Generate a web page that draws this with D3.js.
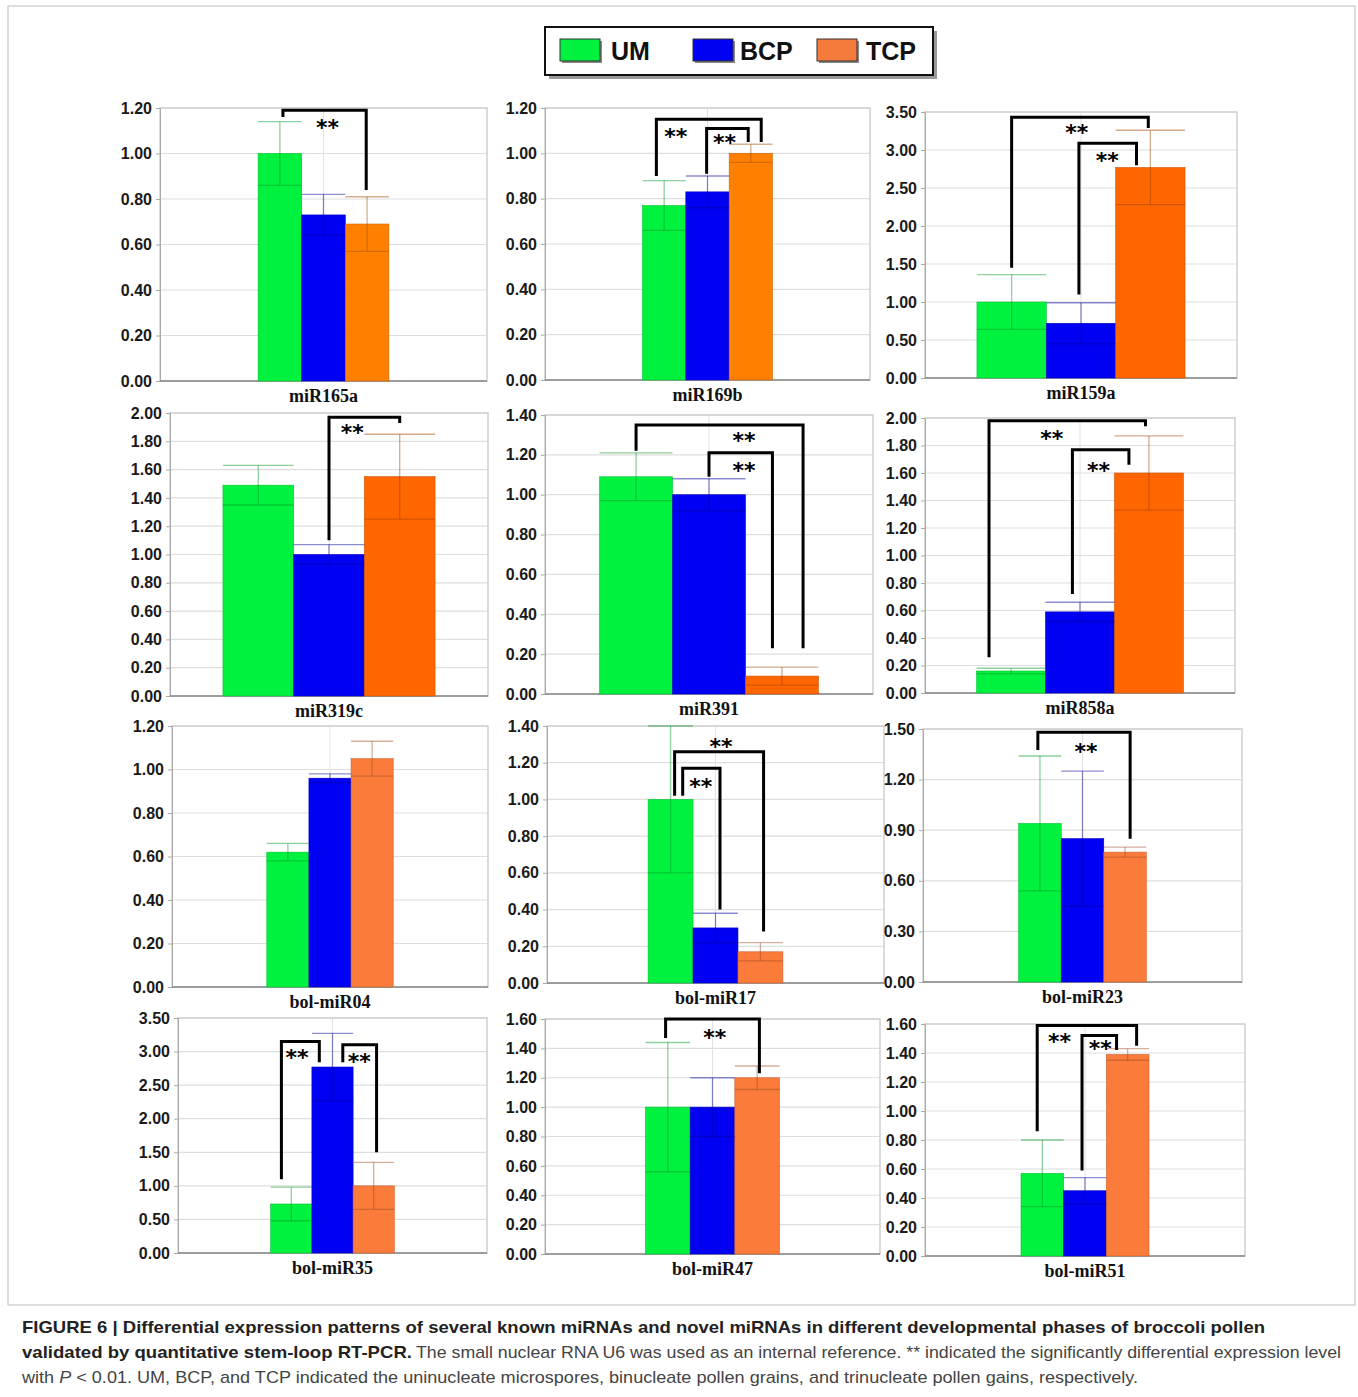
<!DOCTYPE html>
<html>
<head>
<meta charset="utf-8">
<script src="https://cdn.jsdelivr.net/npm/d3@7"></script>
<style>
  body { margin: 0; background: #fff; }
  svg { display: block; }
</style>
</head>
<body>
<div id="chart"></div>
<script>
// ---- data ----
const categories = ['miR165a', 'miR169b', 'miR159a', 'miR319c', 'miR391', 'miR858a',
                    'bol-miR04', 'bol-miR17', 'bol-miR23', 'bol-miR35', 'bol-miR47', 'bol-miR51'];
const series = ['UM', 'BCP', 'TCP'];

const umValues  = [1.00, 0.77, 1.00, 1.49, 1.09, 0.16, 0.62, 1.00, 0.94, 0.73, 1.00, 0.57];
const umErr     = [0.14, 0.11, 0.36, 0.14, 0.12, 0.02, 0.04, 0.40, 0.40, 0.25, 0.44, 0.23];
const bcpValues = [0.73, 0.83, 0.72, 1.00, 1.00, 0.59, 0.96, 0.30, 0.85, 2.77, 1.00, 0.45];
const bcpErr    = [0.09, 0.07, 0.27, 0.07, 0.08, 0.07, 0.02, 0.08, 0.40, 0.50, 0.20, 0.09];
const tcpValues = [0.69, 1.00, 2.77, 1.55, 0.09, 1.60, 1.05, 0.17, 0.77, 1.00, 1.20, 1.39];
const tcpErr    = [0.12, 0.04, 0.49, 0.30, 0.045, 0.27, 0.08, 0.05, 0.03, 0.35, 0.08, 0.04];

// y axis of each panel: max and tick step
const yMax  = [1.2, 1.2, 3.5, 2.0, 1.4, 2.0, 1.2, 1.4, 1.5, 3.5, 1.6, 1.6];
const yStep = [0.2, 0.2, 0.5, 0.2, 0.2, 0.2, 0.2, 0.2, 0.3, 0.5, 0.2, 0.2];

// significance brackets (x in series units: 0 = UM, 1 = BCP, 2 = TCP; y in data units)
const sigBrackets = [
  [{x1: 0.07, x2: 1.98, top: 1.19, y1: 1.16, y2: 0.84, lx: 1.09, ly: 1.14}],
  [{x1: -0.18, x2: 2.24, top: 1.15, y1: 0.90, y2: 1.05, lx: 0.27, ly: 1.10},
   {x1: 0.98, x2: 1.94, top: 1.11, y1: 0.91, y2: 1.05, lx: 1.39, ly: 1.07}],
  [{x1: 0.0, x2: 1.97, top: 3.43, y1: 1.45, y2: 3.29, lx: 0.94, ly: 3.30},
   {x1: 0.97, x2: 1.8, top: 3.09, y1: 1.10, y2: 2.80, lx: 1.38, ly: 2.93}],
  [{x1: 1.0, x2: 2.0, top: 1.97, y1: 1.10, y2: 1.93, lx: 1.33, ly: 1.90}],
  [{x1: 0.0, x2: 2.29, top: 1.35, y1: 1.22, y2: 0.23, lx: 1.48, ly: 1.30},
   {x1: 1.0, x2: 1.87, top: 1.21, y1: 1.09, y2: 0.23, lx: 1.48, ly: 1.15}],
  [{x1: -0.32, x2: 1.95, top: 1.98, y1: 0.26, y2: 1.94, lx: 0.59, ly: 1.89},
   {x1: 0.89, x2: 1.71, top: 1.77, y1: 0.72, y2: 1.66, lx: 1.27, ly: 1.66}],
  [],
  [{x1: 0.09, x2: 2.07, top: 1.26, y1: 1.02, y2: 0.28, lx: 1.12, ly: 1.32},
   {x1: 0.27, x2: 1.1, top: 1.17, y1: 1.02, y2: 0.40, lx: 0.67, ly: 1.10}],
  [{x1: -0.05, x2: 2.12, top: 1.48, y1: 1.375, y2: 0.85, lx: 1.08, ly: 1.40}],
  [{x1: -0.24, x2: 0.68, top: 3.15, y1: 1.10, y2: 2.84, lx: 0.14, ly: 2.99},
   {x1: 1.25, x2: 2.07, top: 3.10, y1: 2.84, y2: 1.50, lx: 1.65, ly: 2.94}],
  [{x1: -0.05, x2: 2.05, top: 1.60, y1: 1.47, y2: 1.23, lx: 1.05, ly: 1.51}],
  [{x1: -0.12, x2: 2.21, top: 1.59, y1: 0.86, y2: 1.45, lx: 0.40, ly: 1.52},
   {x1: 0.93, x2: 1.74, top: 1.52, y1: 0.59, y2: 1.42, lx: 1.36, ly: 1.47}]
];

// ---- layout / style ----
const width = 1358;
const height = 1397;

// plot area of each panel [x, y, w, h]
const plotBoxes = [
  [160, 108, 327, 273], [545, 108, 325, 272], [925, 112, 312, 266],
  [170, 413, 318, 283], [545, 415, 328, 279], [925, 418, 310, 275],
  [172, 726, 316, 261], [547, 726, 337, 257], [923, 729, 319, 253],
  [178, 1018, 309, 235], [545, 1019, 335, 235], [925, 1024, 320, 232]
];
const barFraction = [0.4, 0.4, 0.667, 0.667, 0.667, 0.667, 0.4, 0.4, 0.4, 0.4, 0.4, 0.4];
const tcpShade = ['#ff8000', '#ff8000', '#ff6600', '#ff6600', '#ff6600', '#ff6600',
                  '#fa7b3a', '#fa7b3a', '#fa7b3a', '#fa7b3a', '#fa7b3a', '#fa7b3a'];
const umColour = '#00f23e';
const bcpColour = '#0000f2';

const svg = d3.select('#chart')
  .append('svg')
    .attr('width', width)
    .attr('height', height);

// figure frame
svg.append('rect')
  .attr('x', 8).attr('y', 6)
  .attr('width', 1347).attr('height', 1299)
  .attr('fill', 'none')
  .attr('stroke', '#bdbdbd')
  .attr('stroke-width', 1);

// legend
const legend = svg.append('g');
legend.append('rect')
  .attr('x', 549).attr('y', 31).attr('width', 388).attr('height', 48)
  .attr('fill', '#9a9a9a');
legend.append('rect')
  .attr('x', 545).attr('y', 27).attr('width', 388).attr('height', 48)
  .attr('fill', '#fff')
  .attr('stroke', '#111')
  .attr('stroke-width', 2);

const legendItems = [
  {name: series[0], colour: umColour, sx: 560, tx: 611},
  {name: series[1], colour: bcpColour, sx: 693, tx: 740},
  {name: series[2], colour: '#f47b3c', sx: 817, tx: 866}
];
legendItems.forEach(item => {
  legend.append('rect')
    .attr('x', item.sx + 2).attr('y', 41)
    .attr('width', 40).attr('height', 22)
    .attr('fill', '#888');
  legend.append('rect')
    .attr('x', item.sx).attr('y', 39)
    .attr('width', 40).attr('height', 22)
    .attr('fill', item.colour)
    .attr('stroke', '#333')
    .attr('stroke-width', 1);
  legend.append('text')
    .attr('x', item.tx).attr('y', 60)
    .attr('font-family', 'Liberation Sans, Arial, sans-serif')
    .attr('font-weight', 'bold')
    .attr('font-size', 25)
    .attr('fill', '#111')
    .text(item.name);
});

// panels
categories.forEach((cat, i) => {
  const [px, py, pw, ph] = plotBoxes[i];
  const g = svg.append('g').attr('transform', `translate(${px}, ${py})`);

  const values = [umValues[i], bcpValues[i], tcpValues[i]];
  const errs = [umErr[i], bcpErr[i], tcpErr[i]];
  const colours = [umColour, bcpColour, tcpShade[i]];
  const f = barFraction[i];
  const pad = (1 - f) / (1 + f);

  const xScale = d3.scaleBand()
    .domain([cat])
    .range([0, pw])
    .padding(pad);
  const xSeries = d3.scaleBand()
    .domain(series)
    .range([xScale(cat), xScale(cat) + xScale.bandwidth()]);
  const half = xSeries.bandwidth() / 2;
  // series units -> pixels (0 = UM centre, 2 = TCP centre)
  const sUnit = d3.scaleLinear()
    .domain([0, 2])
    .range([xSeries(series[0]) + half, xSeries(series[2]) + half]);

  const yScale = d3.scaleLinear()
    .domain([0, yMax[i]])
    .range([ph, 0]);
  const ticks = d3.range(0, yMax[i] + yStep[i] / 2, yStep[i]);

  // grid
  g.append('g')
    .selectAll('line')
    .data(ticks)
    .enter()
      .append('line')
        .attr('x1', 0).attr('x2', pw)
        .attr('y1', d => yScale(d)).attr('y2', d => yScale(d))
        .attr('stroke', '#dedede')
        .attr('stroke-width', 1.2);
  g.append('line')
    .attr('x1', xScale(cat) + xScale.bandwidth() / 2)
    .attr('x2', xScale(cat) + xScale.bandwidth() / 2)
    .attr('y1', 0).attr('y2', ph)
    .attr('stroke', '#e2e2e2')
    .attr('stroke-width', 1);

  // frame
  g.append('rect')
    .attr('x', 0).attr('y', 0)
    .attr('width', pw).attr('height', ph)
    .attr('fill', 'none')
    .attr('stroke', '#cfcfcf')
    .attr('stroke-width', 1.5);

  // y axis
  const yAxis = g.append('g')
    .call(d3.axisLeft(yScale)
      .tickValues(ticks)
      .tickSize(4)
      .tickPadding(4)
      .tickFormat(d3.format('.2f')));
  yAxis.select('.domain').attr('stroke', '#aaa');
  yAxis.selectAll('.tick line').attr('stroke', '#aaa');
  yAxis.selectAll('.tick text')
    .attr('font-family', 'Liberation Sans, Arial, sans-serif')
    .attr('font-weight', 'bold')
    .attr('font-size', 16)
    .attr('fill', '#1a1a1a');

  // bottom axis line
  g.append('line')
    .attr('x1', 0).attr('x2', pw)
    .attr('y1', ph).attr('y2', ph)
    .attr('stroke', '#888')
    .attr('stroke-width', 1.5);

  // bars
  g.selectAll('rect.bar')
    .data(series)
    .enter()
      .append('rect')
        .attr('class', 'bar')
        .attr('x', s => xSeries(s))
        .attr('y', (s, k) => yScale(values[k]))
        .attr('width', xSeries.bandwidth())
        .attr('height', (s, k) => ph - yScale(values[k]))
        .attr('fill', (s, k) => colours[k])
        .attr('stroke', (s, k) => d3.color(colours[k]).darker(0.6))
        .attr('stroke-width', 0.6);

  // error bars
  series.forEach((s, k) => {
    const cx = xSeries(s) + half;
    const hi = Math.min(values[k] + errs[k], yMax[i]);
    const lo = values[k] - errs[k];
    const c = d3.color(colours[k]).darker(1.3);
    const eg = g.append('g')
      .attr('stroke', c)
      .attr('stroke-opacity', 0.45)
      .attr('stroke-width', 1.3);
    eg.append('line')
      .attr('x1', cx).attr('x2', cx)
      .attr('y1', yScale(lo)).attr('y2', yScale(hi));
    eg.append('line')
      .attr('x1', xSeries(s)).attr('x2', xSeries(s) + xSeries.bandwidth())
      .attr('y1', yScale(hi)).attr('y2', yScale(hi));
    eg.append('line')
      .attr('x1', xSeries(s)).attr('x2', xSeries(s) + xSeries.bandwidth())
      .attr('y1', yScale(lo)).attr('y2', yScale(lo));
  });

  // significance brackets
  sigBrackets[i].forEach(b => {
    g.append('path')
      .attr('d', `M${sUnit(b.x1)},${yScale(b.y1)} V${yScale(b.top)} H${sUnit(b.x2)} V${yScale(b.y2)}`)
      .attr('fill', 'none')
      .attr('stroke', '#000')
      .attr('stroke-width', 3);
    g.append('text')
      .attr('x', sUnit(b.lx))
      .attr('y', yScale(b.ly) + 13)
      .attr('text-anchor', 'middle')
      .attr('font-family', 'DejaVu Sans, sans-serif')
      .attr('font-weight', 'bold')
      .attr('font-size', 22)
      .attr('fill', '#000')
      .text('**');
  });

  // category label
  g.append('text')
    .attr('x', xScale(cat) + xScale.bandwidth() / 2)
    .attr('y', ph + 21)
    .attr('text-anchor', 'middle')
    .attr('font-family', 'Liberation Serif, Times New Roman, serif')
    .attr('font-weight', 'bold')
    .attr('font-size', 18)
    .attr('fill', '#111')
    .text(cat);
});

// caption
const cap = svg.append('g')
  .attr('font-family', 'Liberation Sans, Arial, sans-serif')
  .attr('font-size', 17)
  .attr('fill', '#222');

cap.append('text')
  .attr('x', 22).attr('y', 1333)
  .attr('font-weight', 'bold')
  .attr('textLength', 1243)
  .attr('lengthAdjust', 'spacingAndGlyphs')
  .text('FIGURE 6 | Differential expression patterns of several known miRNAs and novel miRNAs in different developmental phases of broccoli pollen');

cap.append('text')
  .attr('x', 22).attr('y', 1358)
  .attr('font-weight', 'bold')
  .attr('textLength', 390)
  .attr('lengthAdjust', 'spacingAndGlyphs')
  .text('validated by quantitative stem-loop RT-PCR.');

cap.append('text')
  .attr('x', 416).attr('y', 1358)
  .attr('fill', '#444')
  .attr('textLength', 925)
  .attr('lengthAdjust', 'spacingAndGlyphs')
  .text('The small nuclear RNA U6 was used as an internal reference. ** indicated the significantly differential expression level');

const line3 = cap.append('text')
  .attr('x', 22).attr('y', 1383)
  .attr('fill', '#444')
  .attr('textLength', 1116)
  .attr('lengthAdjust', 'spacingAndGlyphs');
line3.append('tspan').text('with ');
line3.append('tspan').attr('font-style', 'italic').text('P');
line3.append('tspan').text(' < 0.01. UM, BCP, and TCP indicated the uninucleate microspores, binucleate pollen grains, and trinucleate pollen gains, respectively.');
</script>
</body>
</html>
